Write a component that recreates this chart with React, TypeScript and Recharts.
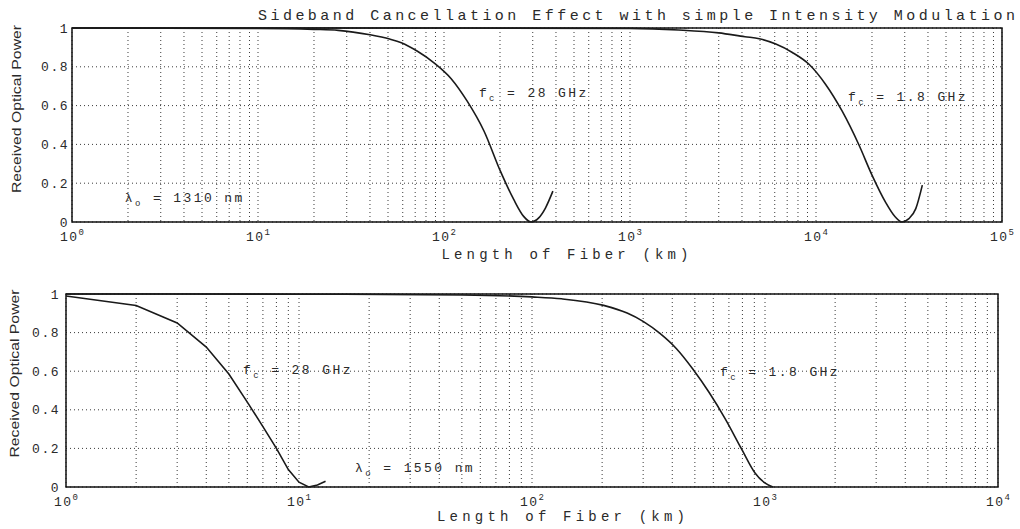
import React from "react";
import {
  LineChart,
  Line,
  XAxis,
  YAxis,
  CartesianGrid,
  ReferenceArea,
  ReferenceDot,
} from "recharts";

// Sideband cancellation, 1310 nm (top) and 1550 nm (bottom).

const top28Km = [1, 10, 20, 27, 40, 51, 59, 72, 88, 109, 133, 164, 201, 237, 268, 294, 323, 351, 385];
const top28Pow = [1, 0.998, 0.993, 0.988, 0.965, 0.943, 0.924, 0.88, 0.822, 0.74, 0.624, 0.469, 0.262, 0.116, 0.029, 0, 0.021, 0.072, 0.159];

const top18Km = [1, 100, 1000, 1820, 3000, 4150, 4950, 6080, 7460, 9170, 11270, 13830, 17000, 20000, 23600, 26700, 29000, 31600, 34400, 37300];
const top18Pow = [1, 1, 0.998, 0.99, 0.975, 0.955, 0.945, 0.917, 0.874, 0.813, 0.709, 0.571, 0.398, 0.242, 0.104, 0.026, 0, 0.017, 0.069, 0.19];

const bot28Km = [1, 2, 3, 4, 5, 6, 7, 8, 9, 10, 11, 12, 13];
const bot28Pow = [0.99, 0.94, 0.85, 0.725, 0.585, 0.44, 0.313, 0.2, 0.09, 0.025, 0, 0.01, 0.03];

const bot18Km = [1, 10, 50, 100, 134, 203, 256, 301, 354, 416, 489, 575, 676, 795, 906, 998, 1082];
const bot18Pow = [1, 0.999, 0.995, 0.985, 0.975, 0.941, 0.901, 0.857, 0.796, 0.718, 0.613, 0.491, 0.352, 0.195, 0.073, 0.021, 0];

const decadesTop = [1, 10, 100, 1000, 10000, 100000];
const decadesBottom = [1, 10, 100, 1000, 10000];
const exponentLabels = ["0", "1", "2", "3", "4", "5"];
const minorSteps = [1, 2, 3, 4, 5, 6, 7, 8, 9];
const yTicks = [0, 0.2, 0.4, 0.6, 0.8, 1];
const yTickLabels = ["0", "0.2", "0.4", "0.6", "0.8", "1"];

const topNotes = [
  { km: 154, p: 0.644, base: "f", sub: "c", rest: " = 28 GHz" },
  { km: 14860, p: 0.624, base: "f", sub: "c", rest: " = 1.8 GHz" },
  { km: 1.92, p: 0.103, base: "λ", sub: "o", rest: " = 1310 nm" },
];
const bottomNotes = [
  { km: 5.75, p: 0.585, base: "f", sub: "c", rest: " = 28 GHz" },
  { km: 641, p: 0.575, base: "f", sub: "c", rest: " = 1.8 GHz" },
  { km: 17.4, p: 0.078, base: "λ", sub: "o", rest: " = 1550 nm" },
];

const MONO = "'Liberation Mono', 'DejaVu Sans Mono', monospace";
const INK = "#2a2a2a";

const zip = (km: number[], pow: number[]) => km.map((k, i) => ({ km: k, p: pow[i] }));
const logTicks = (decades: number[]) =>
  decades.slice(0, -1).flatMap((d) => minorSteps.map((m) => m * d)).concat(decades[decades.length - 1]);

function DecadeTick(props: any) {
  const { x, y, payload, decades, dy } = props;
  const idx = decades.indexOf(payload.value);
  if (idx < 0) return <g />;
  return (
    <text x={x} y={y + dy} textAnchor="middle" fontFamily={MONO} fontSize={13} fill={INK}>
      <tspan letterSpacing={1.5}>10</tspan>
      <tspan dy={-6} fontSize={9}>{exponentLabels[idx]}</tspan>
    </text>
  );
}

function NoteLabel(props: any) {
  const { viewBox, note } = props;
  const x = viewBox.x + viewBox.width / 2;
  const y = viewBox.y + viewBox.height / 2;
  return (
    <text x={x} y={y} fontFamily={MONO} fontSize={13} letterSpacing={2.4} fill={INK}>
      <tspan>{note.base}</tspan>
      <tspan dy={4} fontSize={9}>{note.sub}</tspan>
      <tspan dy={-4}>{note.rest}</tspan>
    </text>
  );
}

type PanelProps = {
  height: number;
  top: number;
  right: number;
  yAxisWidth: number;
  xAxisHeight: number;
  decades: number[];
  series: { km: number; p: number }[][];
  curveTypes: ("monotone" | "linear")[];
  notes: typeof topNotes;
  yTickGap: number;
  xTickDy: number;
  xTitleShift: number;
  xTitleDy: number;
  xTitleLen: number;
  yTitleX: number;
  yTitleShift: number;
};

function Panel(p: PanelProps) {
  const lastDecade = p.decades[p.decades.length - 1];
  return (
    <LineChart width={1020} height={p.height} margin={{ top: p.top, right: p.right, left: 0, bottom: 0 }}>
      <CartesianGrid stroke="#3a3a3a" strokeDasharray="1 3" strokeWidth={1} />
      <XAxis
        dataKey="km"
        type="number"
        scale="log"
        domain={[1, lastDecade]}
        ticks={logTicks(p.decades)}
        interval={0}
        height={p.xAxisHeight}
        axisLine={false}
        tickLine={false}
        tickSize={0}
        tickMargin={0}
        allowDataOverflow
        tick={<DecadeTick decades={p.decades} dy={p.xTickDy} />}
        label={{
          content: (lp: any) => {
            const vb = lp.viewBox;
            return (
              <text
                x={vb.x + vb.width / 2 + p.xTitleShift}
                y={vb.y + p.xTitleDy}
                textAnchor="middle"
                textLength={p.xTitleLen}
                lengthAdjust="spacing"
                fontFamily={MONO}
                fontSize={14}
                fill={INK}
              >
                Length of Fiber (km)
              </text>
            );
          },
        }}
      />
      <YAxis
        type="number"
        domain={[0, 1]}
        ticks={yTicks}
        width={p.yAxisWidth}
        axisLine={false}
        tickLine={false}
        tickSize={0}
        tickMargin={p.yTickGap}
        tickFormatter={(v: number) => yTickLabels[yTicks.indexOf(v)]}
        tick={{ fontFamily: MONO, fontSize: 13, fill: INK, letterSpacing: 1.5 }}
        label={{
          content: (lp: any) => {
            const vb = lp.viewBox;
            const cy = vb.y + vb.height / 2 + p.yTitleShift;
            return (
              <text
                x={p.yTitleX}
                y={cy}
                transform={`rotate(-90 ${p.yTitleX} ${cy})`}
                textAnchor="middle"
                textLength={168}
                lengthAdjust="spacingAndGlyphs"
                fontFamily="'Liberation Sans Narrow', 'Liberation Sans', sans-serif"
                fontSize={13}
                fill={INK}
              >
                Received Optical Power
              </text>
            );
          },
        }}
      />
      <ReferenceArea x1={1} x2={lastDecade} y1={0} y2={1} fill="none" stroke="#111" strokeWidth={1.5} />
      {p.series.map((d, i) => (
        <Line
          key={i}
          data={d}
          dataKey="p"
          type={p.curveTypes[i]}
          stroke="#1a1a1a"
          strokeWidth={1.6}
          dot={false}
          isAnimationActive={false}
        />
      ))}
      {p.notes.map((n, i) => (
        <ReferenceDot
          key={i}
          x={n.km}
          y={n.p}
          r={0}
          fill="none"
          stroke="none"
          label={{ content: (lp: any) => <NoteLabel viewBox={lp.viewBox} note={n} /> }}
        />
      ))}
    </LineChart>
  );
}

export default function App() {
  return (
    <div style={{ position: "absolute", left: 0, top: 0, width: 1020, height: 529, background: "#fff" }}>
      <svg width={1020} height={26} style={{ position: "absolute", left: 0, top: 0 }}>
        <text
          x={258}
          y={20}
          textLength={757}
          lengthAdjust="spacing"
          fontFamily={MONO}
          fontSize={15}
          fill={INK}
        >
          Sideband Cancellation Effect with simple Intensity Modulation
        </text>
      </svg>
      <div style={{ position: "absolute", left: 0, top: 0 }}>
        <Panel
          height={265}
          top={28}
          right={18}
          yAxisWidth={72}
          xAxisHeight={43}
          decades={decadesTop}
          series={[zip(top28Km, top28Pow), zip(top18Km, top18Pow)]}
          curveTypes={["monotone", "monotone"]}
          notes={topNotes}
          yTickGap={3}
          xTickDy={19}
          xTitleShift={28}
          xTitleDy={37}
          xTitleLen={247}
          yTitleX={21}
          yTitleShift={-16}
        />
      </div>
      <div style={{ position: "absolute", left: 0, top: 265 }}>
        <Panel
          height={264}
          top={29}
          right={22}
          yAxisWidth={66}
          xAxisHeight={42}
          decades={decadesBottom}
          series={[zip(bot28Km, bot28Pow), zip(bot18Km, bot18Pow)]}
          curveTypes={["linear", "monotone"]}
          notes={bottomNotes}
          yTickGap={6}
          xTickDy={19}
          xTitleShift={29}
          xTitleDy={34}
          xTitleLen={248}
          yTitleX={19}
          yTitleShift={-17}
        />
      </div>
    </div>
  );
}
